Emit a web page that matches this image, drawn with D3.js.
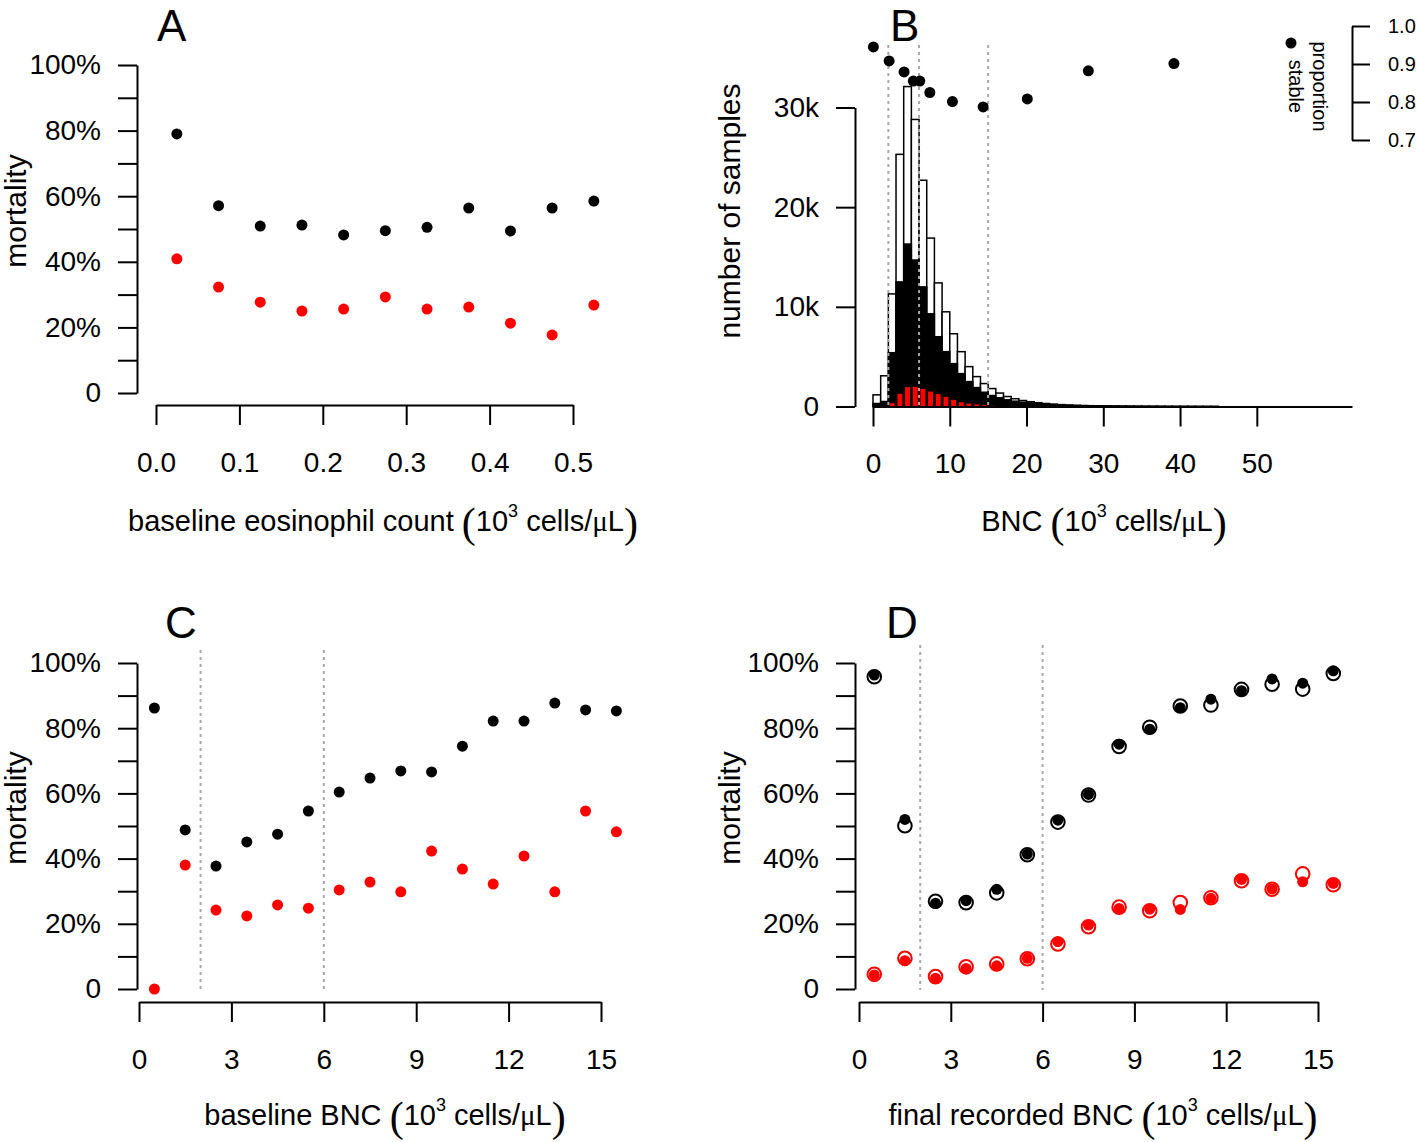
<!DOCTYPE html>
<html>
<head>
<meta charset="utf-8">
<script src="https://cdn.jsdelivr.net/npm/d3@7"></script>
<style>
  body { margin: 0; background: #fff; }
  svg { display: block; }
</style>
</head>
<body>
<script>
// ---------------- DATA ----------------
// Panel A: baseline eosinophil count bins (bin centers) and mortality
const eosBins = [0.025, 0.075, 0.125, 0.175, 0.225, 0.275, 0.325, 0.375, 0.425, 0.475, 0.525];
const A_black = [79.0, 57.1, 50.9, 51.2, 48.2, 49.5, 50.5, 56.4, 49.4, 56.4, 58.5];
const A_red   = [40.9, 32.3, 27.7, 25.0, 25.6, 29.3, 25.6, 26.2, 21.3, 17.7, 26.8];
const A_xticks = [0, 0.1, 0.2, 0.3, 0.4, 0.5];

// Panel B: histogram of BNC (bins of width 1, starting at 0), counts in thousands
const histStart = [0,1,2,3,4,5,6,7,8,9,10,11,12,13,14,15,16,17,18,19,20,21,22,23,24,25,26,27,28,29,30,31,32,33,34,35,36,37,38,39,40,41,42,43,44];
const histTotal = [1.17,3.08,11.3,25.3,32.1,28.8,22.7,16.9,12.4,9.5,7.3,5.5,4.0,3.0,2.3,1.8,1.35,1.0,0.78,0.6,0.48,0.38,0.30,0.24,0.19,0.15,0.12,0.10,0.08,0.07,0.06,0.05,0.04,0.035,0.03,0.025,0.02,0.018,0.015,0.012,0.01,0.008,0.006,0.005,0.004];
const histBlack = [0.3,0.5,5.4,12.5,16.3,14.7,12.0,9.3,7.0,5.5,4.3,3.3,2.5,1.9,1.43,1.1,0.87,0.67,0.53,0.43,0.36,0.29,0.23,0.18,0.14,0.11,0.09,0.07,0.06,0.05,0.04,0.035,0.03,0.025,0.02,0.018,0.015,0.012,0.01,0.008,0.007,0.006,0.005,0.004,0.003];
const redStart = [2,3,4,5,6,7,8,9,10,11,12,13,14,15];
const histRed  = [0.33,1.27,1.94,1.97,1.77,1.5,1.24,0.97,0.67,0.43,0.3,0.2,0.13,0.07];
const propX = [0.05, 2.1, 4.05, 5.25, 6.1, 7.4, 10.35, 14.35, 20.1, 28.05, 39.2];
const propY = [0.945, 0.908, 0.879, 0.855, 0.855, 0.825, 0.801, 0.787, 0.808, 0.882, 0.901];
const B_xticks = [0, 10, 20, 30, 40, 50];
const B_yticks = [0, 10000, 20000, 30000];
const B_rticks = [0.7, 0.8, 0.9, 1.0];
const B_vlines = [2, 6, 15];

// Panel C / D: BNC bins (centers)
const bncBins = [0.5,1.5,2.5,3.5,4.5,5.5,6.5,7.5,8.5,9.5,10.5,11.5,12.5,13.5,14.5,15.5];
const C_black = [86.2, 48.8, 37.7, 45.1, 47.5, 54.6, 60.4, 64.7, 66.9, 66.6, 74.5, 82.2, 82.2, 87.7, 85.6, 85.3];
const C_red   = [0, 38.0, 24.2, 22.4, 25.8, 24.8, 30.4, 32.8, 29.8, 42.3, 36.8, 32.2, 40.8, 29.8, 54.6, 48.2];
const D_blackFilled = [96.3, 52.0, 26.3, 27.1, 30.6, 41.4, 51.8, 59.7, 75.1, 79.7, 86.3, 88.9, 91.5, 95.1, 93.8, 97.6];
const D_blackOpen   = [95.8, 50.1, 26.9, 26.5, 29.5, 41.2, 51.2, 59.5, 74.4, 80.3, 86.8, 87.1, 91.9, 93.5, 92.0, 96.8];
const D_redFilled   = [4.3, 8.7, 3.3, 6.3, 7.1, 9.4, 14.5, 19.6, 24.7, 24.5, 24.4, 27.8, 33.6, 30.7, 32.9, 32.4];
const D_redOpen     = [4.5, 9.4, 3.8, 6.8, 7.7, 9.3, 13.8, 19.1, 25.1, 24.0, 26.5, 28.0, 33.2, 30.6, 35.3, 32.0];
const CD_xticks = [0, 3, 6, 9, 12, 15];
const CD_vlines = [2, 6];
const pctTicks = [0, 0.1, 0.2, 0.3, 0.4, 0.5, 0.6, 0.7, 0.8, 0.9, 1.0];

// ---------------- DRAWING ----------------
const SANS = "'Liberation Sans', Arial, Helvetica, sans-serif";
const SERIF = "'Liberation Serif', 'Times New Roman', serif";
const RED = "#ff0000";

const svg = d3.select("body").append("svg")
  .attr("width", 1418).attr("height", 1142)
  .style("font-family", SANS);

function styleAxis(g, fs) {
  g.attr("font-family", SANS).attr("font-size", fs);
  g.selectAll(".domain").attr("stroke", "#000").attr("stroke-width", 2);
  g.selectAll(".tick line").attr("stroke", "#000").attr("stroke-width", 2);
  g.selectAll(".tick text").attr("fill", "#000");
}

function pctAxis(y, x0) {
  const ax = d3.axisLeft(y).tickValues(pctTicks).tickSize(19).tickSizeOuter(0).tickPadding(17)
    .tickFormat((d, i) => i % 2 ? "" : (d === 0 ? "0" : Math.round(d * 100) + "%"));
  const g = svg.append("g").attr("transform", `translate(${x0},0)`).call(ax);
  styleAxis(g, 28);
}

function bottomAxis(x, y0, ticks, fmt) {
  const ax = d3.axisBottom(x).tickValues(ticks).tickSize(20).tickSizeOuter(0).tickPadding(27).tickFormat(fmt);
  const g = svg.append("g").attr("transform", `translate(0,${y0})`).call(ax);
  styleAxis(g, 28);
  return g;
}

function yTitle(x, y, txt) {
  svg.append("text").attr("transform", `translate(${x},${y}) rotate(-90)`)
    .attr("text-anchor", "middle").attr("font-size", 30).attr("fill", "#000").text(txt);
}

function xTitle(cx, y, prefix) {
  const t = svg.append("text").attr("x", cx).attr("y", y).attr("text-anchor", "middle")
    .attr("font-size", 29).attr("fill", "#000");
  t.append("tspan").text(prefix + " ");
  t.append("tspan").attr("font-family", SERIF).attr("font-size", 42).attr("dy", 6).text("(");
  t.append("tspan").attr("dy", -6).text("10");
  t.append("tspan").attr("font-size", 18).attr("dy", -14).text("3");
  t.append("tspan").attr("dy", 14).text(" cells/");
  t.append("tspan").attr("font-family", SERIF).text("\u03BC");
  t.append("tspan").text("L");
  t.append("tspan").attr("font-family", SERIF).attr("font-size", 42).attr("dy", 6).text(")");
}

function panelLabel(x, y, txt) {
  svg.append("text").attr("x", x).attr("y", y).attr("font-size", 44).attr("fill", "#000").text(txt);
}

function dots(xs, ys, xScale, yScale, color, r) {
  svg.append("g").selectAll("circle").data(xs).join("circle")
    .attr("cx", d => xScale(d)).attr("cy", (d, i) => yScale(ys[i] / 100))
    .attr("r", r).attr("fill", color);
}
function rings(xs, ys, xScale, yScale, color, r) {
  svg.append("g").selectAll("circle").data(xs).join("circle")
    .attr("cx", d => xScale(d)).attr("cy", (d, i) => yScale(ys[i] / 100))
    .attr("r", r).attr("fill", "none").attr("stroke", color).attr("stroke-width", 2);
}
function vlines(xs, xScale, y1, y2) {
  svg.append("g").selectAll("line").data(xs).join("line")
    .attr("x1", d => xScale(d)).attr("x2", d => xScale(d))
    .attr("y1", y1).attr("y2", y2)
    .attr("stroke", "#a8a8a8").attr("stroke-width", 2).attr("stroke-dasharray", "3,4");
}

// ---------- Panel A ----------
{
  const x = d3.scaleLinear().domain([0, 0.5]).range([156, 573]);
  const y = d3.scaleLinear().domain([0, 1]).range([393, 65]);
  pctAxis(y, 137);
  bottomAxis(x, 405, A_xticks, d3.format(".1f"));
  dots(eosBins, A_black, x, y, "#000", 5.5);
  dots(eosBins, A_red, x, y, RED, 5.5);
  yTitle(26, 211, "mortality");
  xTitle(383, 531, "baseline eosinophil count");
  panelLabel(157, 41, "A");
}

// ---------- Panel B ----------
{
  const x = d3.scaleLinear().domain([0, 62.4]).range([873, 1352]);
  const y = d3.scaleLinear().domain([0, 30000]).range([406.5, 107.5]);
  const yr = d3.scaleLinear().domain([0.7, 1.0]).range([140, 26]);

  const gH = svg.append("g");
  gH.selectAll("rect.tot").data(histStart).join("rect").attr("class", "tot")
    .attr("x", d => x(d)).attr("width", d => x(d + 1) - x(d))
    .attr("y", (d, i) => y(histTotal[i] * 1000)).attr("height", (d, i) => y(0) - y(histTotal[i] * 1000))
    .attr("fill", "#fff").attr("stroke", "#000").attr("stroke-width", 1.5);
  gH.selectAll("rect.blk").data(histStart).join("rect").attr("class", "blk")
    .attr("x", d => x(d)).attr("width", d => x(d + 1) - x(d))
    .attr("y", (d, i) => y(histBlack[i] * 1000)).attr("height", (d, i) => y(0) - y(histBlack[i] * 1000))
    .attr("fill", "#000").attr("stroke", "#000").attr("stroke-width", 1.5);
  gH.selectAll("rect.red").data(redStart).join("rect").attr("class", "red")
    .attr("x", d => x(d + 0.18)).attr("width", d => x(d + 0.82) - x(d + 0.18))
    .attr("y", (d, i) => y(histRed[i] * 1000)).attr("height", (d, i) => y(0) - y(histRed[i] * 1000))
    .attr("fill", RED);

  vlines(B_vlines, x, 45, 406);

  const axL = d3.axisLeft(y).tickValues(B_yticks).tickSize(19).tickSizeOuter(0).tickPadding(17)
    .tickFormat(d => d === 0 ? "0" : (d / 1000) + "k");
  styleAxis(svg.append("g").attr("transform", "translate(855,0)").call(axL), 28);
  bottomAxis(x, 406.5, B_xticks, d3.format("d"));

  const axR = d3.axisRight(yr).tickValues(B_rticks).tickSize(18).tickSizeOuter(0).tickPadding(18)
    .tickFormat(d3.format(".1f"));
  styleAxis(svg.append("g").attr("transform", "translate(1352,0)").call(axR), 20);

  svg.append("g").selectAll("circle").data(propX).join("circle")
    .attr("cx", d => x(d)).attr("cy", (d, i) => yr(propY[i])).attr("r", 5.5).attr("fill", "#000");

  // legend
  svg.append("circle").attr("cx", 1291).attr("cy", 43).attr("r", 5.5).attr("fill", "#000");
  svg.append("text").attr("transform", "translate(1313,86.5) rotate(90)").attr("text-anchor", "middle")
    .attr("font-size", 20).attr("fill", "#000").text("proportion");
  svg.append("text").attr("transform", "translate(1289,86.5) rotate(90)").attr("text-anchor", "middle")
    .attr("font-size", 20).attr("fill", "#000").text("stable");

  yTitle(740, 211, "number of samples");
  xTitle(1104, 531, "BNC");
  panelLabel(890, 41, "B");
}

// ---------- Panel C ----------
{
  const x = d3.scaleLinear().domain([0, 15]).range([139, 601]);
  const y = d3.scaleLinear().domain([0, 1]).range([989, 663]);
  vlines(CD_vlines, x, 650, 990);
  pctAxis(y, 137);
  bottomAxis(x, 1002, CD_xticks, d3.format("d"));
  dots(bncBins, C_black, x, y, "#000", 5.5);
  dots(bncBins, C_red, x, y, RED, 5.5);
  yTitle(26, 808, "mortality");
  xTitle(385, 1125, "baseline BNC");
  panelLabel(165, 638, "C");
}

// ---------- Panel D ----------
{
  const x = d3.scaleLinear().domain([0, 15]).range([859, 1318]);
  const y = d3.scaleLinear().domain([0, 1]).range([989, 663]);
  vlines(CD_vlines, x, 645, 990);
  pctAxis(y, 855);
  bottomAxis(x, 1002, CD_xticks, d3.format("d"));
  rings(bncBins, D_blackOpen, x, y, "#000", 6.8);
  dots(bncBins, D_blackFilled, x, y, "#000", 5.5);
  rings(bncBins, D_redOpen, x, y, RED, 6.8);
  dots(bncBins, D_redFilled, x, y, RED, 5.5);
  yTitle(740, 808, "mortality");
  xTitle(1103, 1125, "final recorded BNC");
  panelLabel(886, 638, "D");
}
</script>
</body>
</html>
